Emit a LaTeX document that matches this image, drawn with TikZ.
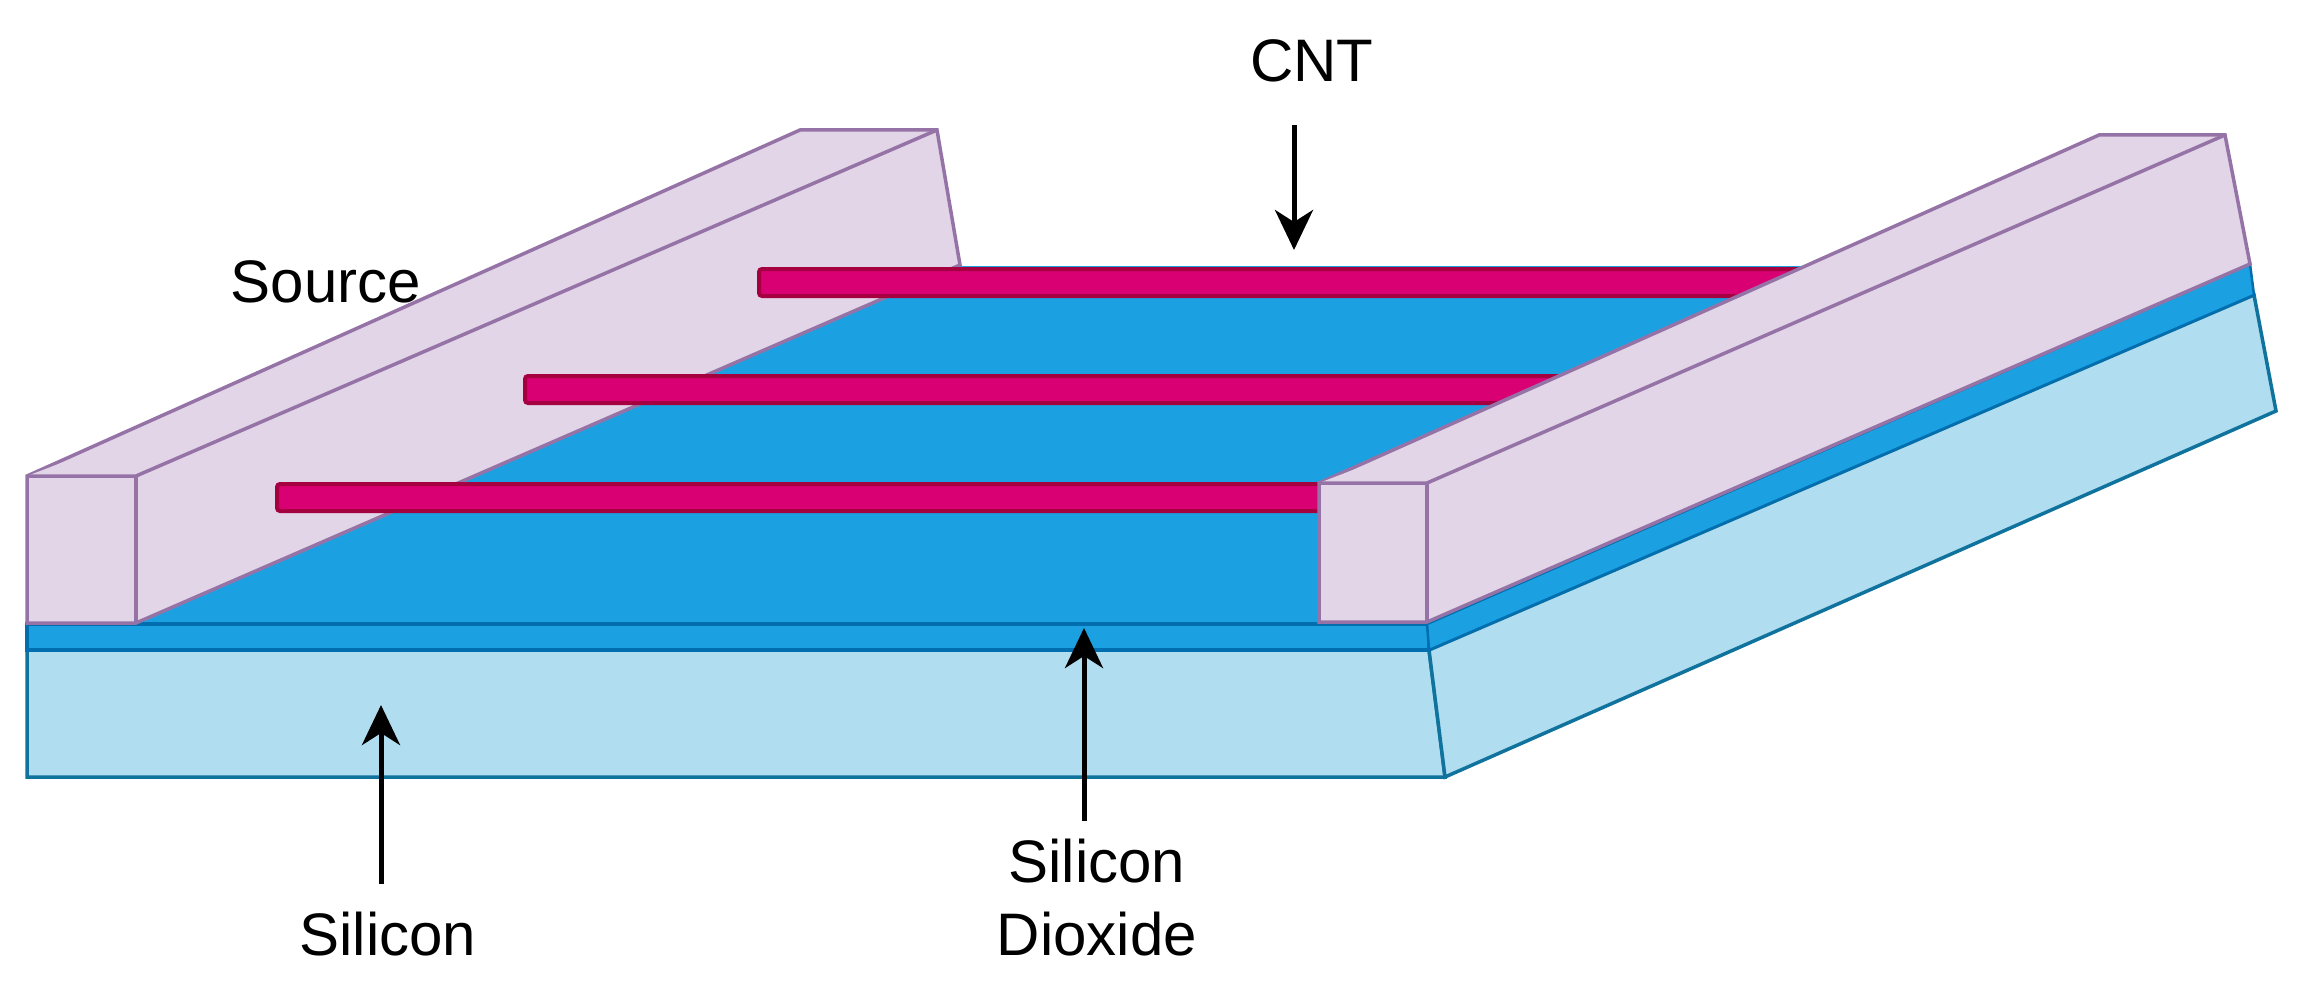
\documentclass[tikz,border=0pt]{standalone}
\usepackage{fontspec}
\setmainfont{Liberation Sans}
\usetikzlibrary{arrows.meta}
\definecolor{sifill}{HTML}{B1DDF0}
\definecolor{sistroke}{HTML}{10739E}
\definecolor{oxfill}{HTML}{1BA1E2}
\definecolor{oxstroke}{HTML}{006EAF}
\definecolor{elfill}{HTML}{E1D5E7}
\definecolor{elstroke}{HTML}{9673A6}
\definecolor{cntfill}{HTML}{D80073}
\definecolor{cntstroke}{HTML}{A50040}
\tikzset{
  silayer/.style={fill=sifill,draw=sistroke,line width=3.5pt,line join=miter},
  oxlayer/.style={fill=oxfill,draw=oxstroke,line width=3.5pt,line join=miter},
  oxtop/.style={fill=oxfill,draw=none},
  electrode/.style={fill=elfill,draw=elstroke,line width=3.5pt,line join=miter},
  nanotube/.style={fill=cntfill,draw=cntstroke,line width=4pt,rounded corners=3pt},
  pointer/.style={draw=black,line width=5pt,-{Stealth[length=40pt,width=38pt,inset=12pt]}},
  lbl/.style={font=\fontsize{60}{73}\selectfont,text=black,inner sep=0pt,anchor=base,align=center}
}
\begin{document}
\begin{tikzpicture}[x=1pt,y=-1pt]
\useasboundingbox (0,0) rectangle (2297,995);
% silicon
\draw[silayer] (27,650) -- (1429,650) -- (1445,777) -- (27,777) -- cycle;
\draw[silayer] (1429,650) -- (2254,295) -- (2276,411) -- (1445,777) -- cycle;
% oxide
\fill[oxtop] (136,623) -- (960,266) -- (2250,266) -- (1427,623) -- cycle;
\draw[oxlayer] (27,624) rectangle (1429,650);
\draw[oxlayer,line width=2.5pt] (1427,624) -- (2250,264) -- (2254,295) -- (1429,650) -- cycle;
% left electrode
\draw[electrode] (27,476) -- (800,130) -- (937,130) -- (960,265) -- (136,623) -- (27,623) -- cycle;
\draw[electrode] (27,476) -- (136,476) -- (937,130);
\draw[electrode] (136,476) -- (136,623);
% nanotubes
\draw[nanotube] (759,269) rectangle (1850,296);
\draw[nanotube] (525,376) rectangle (1700,403);
\draw[nanotube] (277,484) rectangle (1400,511);
% right electrode
\draw[electrode] (1319,483) -- (2099,135) -- (2225,135) -- (2250,264) -- (1427,622) -- (1319,622) -- cycle;
\draw[electrode] (1319,483) -- (1427,483) -- (2225,135);
\draw[electrode] (1427,483) -- (1427,622);
% labels
\node[lbl] (source) at (326,302) {Source};
\node[lbl] (cnt) at (1312,82) {CNT};
\node[lbl] (silicon) at (388,955) {Silicon};
\node[lbl] (dioxide) at (1097,955) {Silicon\\Dioxide};
% arrows
\coordinate (cntTail) at (1294,125);
\coordinate (cntTip) at (1294,250);
\coordinate (siTail) at (381,884);
\coordinate (siTip) at (381,705);
\coordinate (oxTail) at (1084,821);
\coordinate (oxTip) at (1084,628);
\draw[pointer] (cntTail) -- (cntTip);
\draw[pointer] (siTail) -- (siTip);
\draw[pointer] (oxTail) -- (oxTip);
\end{tikzpicture}
\end{document}
